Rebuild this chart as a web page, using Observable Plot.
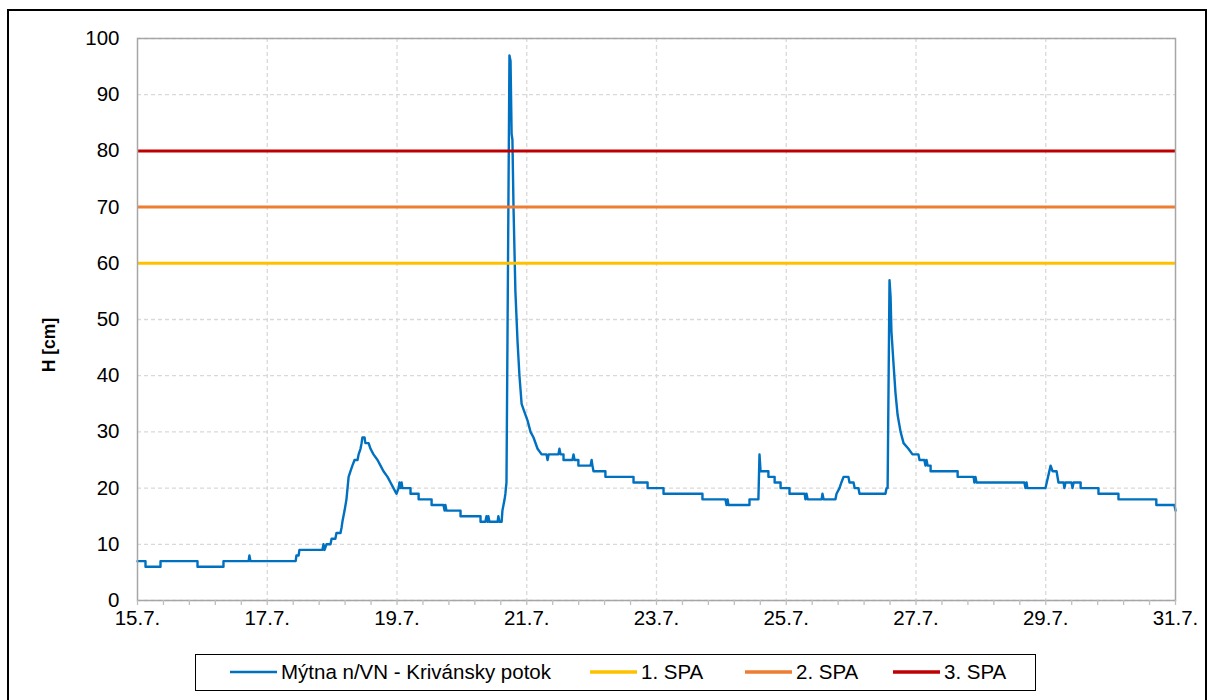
<!DOCTYPE html>
<html>
<head>
<meta charset="utf-8">
<script src="https://cdn.jsdelivr.net/npm/d3@7"></script>
<script src="https://cdn.jsdelivr.net/npm/@observablehq/plot@0.6"></script>
<style>
  html, body { margin: 0; padding: 0; background: #fff; }
  body { width: 1211px; height: 700px; overflow: hidden; position: relative; font-family: "Liberation Sans", Arial, sans-serif; }
  #outer { position: absolute; left: 7px; top: 9px; width: 1200px; height: 760px; border: 2px solid #000; box-sizing: border-box; }
  #chart { position: absolute; left: 0; top: 0; }
  #chart svg text { font-size: 20.5px; fill: #000; }
  #ylabel { position: absolute; left: 49px; top: 345px; transform: translate(-50%, -50%) rotate(-90deg); font-weight: bold; font-size: 17.5px; white-space: nowrap; color: #000; }
  #legend { position: absolute; left: 195px; top: 654px; width: 841px; height: 37px; border: 1.5px solid #000; box-sizing: border-box; background: #fff; }
  .lg { position: absolute; top: 0; height: 34px; display: flex; align-items: center; font-size: 20.5px; color: #000; white-space: nowrap; }
  .sw { display: inline-block; width: 47px; margin-right: 4px; }
</style>
</head>
<body>
<div id="outer"></div>
<div id="chart"></div>
<div id="ylabel"></div>
<div id="legend"></div>
<script>
// ---- data ----
const seriesName = "Mýtna n/VN - Krivánsky potok";
const startDay = "2021-07-15T00:00:00Z";
const hoursFromStart = [
  0, 2.96, 2.96, 8.51, 8.51, 22.2, 22.2, 31.8, 31.8, 41.1,
  41.4, 41.8, 58.5, 58.8, 59.6, 59.9, 68.4, 68.8, 69.2, 69.9,
  71.4, 71.8, 73.2, 73.6, 75.1, 75.5, 75.8, 76.6, 77.3, 78.1,
  78.8, 79.5, 80.3, 81.4, 81.8, 82.5, 82.9, 83.2, 84.0, 84.3,
  85.5, 86.2, 87.3, 88.8, 89.9, 91.0, 92.5, 93.6, 94.7, 95.8,
  96.6, 96.9, 97.3, 97.7, 98.0, 101.0, 101.0, 104.0, 104.0, 108.8,
  108.8, 113.2, 113.6, 113.9, 114.3, 119.5, 119.5, 126.9, 126.9, 128.7,
  129.1, 129.5, 129.8, 130.2, 133.2, 133.5, 133.9, 134.7, 135.0, 135.8,
  136.1, 136.5, 137.6, 138.0, 138.4, 138.7, 139.1, 139.8, 140.6, 141.3,
  142.1, 142.8, 144.3, 145.4, 146.5, 148.0, 149.5, 151.3, 151.7, 152.1,
  155.7, 156.1, 156.5, 157.6, 157.6, 160.9, 161.3, 161.7, 163.1, 163.1,
  167.6, 168.0, 168.3, 168.7, 173.1, 173.1, 183.5, 183.5, 188.7, 188.7,
  194.6, 194.6, 209.0, 209.0, 217.5, 217.9, 218.3, 218.6, 226.4, 226.4,
  229.7, 230.1, 230.5, 233.4, 233.4, 235.7, 235.7, 237.9, 237.9, 241.2,
  241.2, 246.8, 247.1, 247.5, 247.9, 253.1, 253.4, 253.8, 258.2, 258.6,
  259.7, 260.4, 261.2, 263.0, 263.4, 264.9, 265.3, 266.7, 267.1, 276.7,
  277.1, 277.5, 278.2, 278.6, 278.9, 279.7, 280.4, 281.2, 282.3, 283.4,
  285.2, 286.7, 288.9, 289.3, 291.1, 291.5, 291.9, 292.3, 293.4, 293.4,
  303.4, 303.4, 309.3, 309.6, 310.0, 310.4, 328.1, 328.5, 328.9, 329.2,
  335.9, 337.8, 338.5, 340.0, 340.7, 342.6, 342.9, 343.3, 345.5, 345.9,
  346.3, 348.9, 348.9, 355.5, 355.5, 362.9, 362.9, 376.9, 376.9, 383.6, 384.0
];
const levelCm = [
  7, 7, 6, 6, 7, 7, 6, 6, 7, 7,
  8, 7, 7, 8, 8, 9, 9, 10, 9, 10,
  10, 11, 11, 12, 12, 13, 14, 16, 18, 22,
  23, 24, 25, 25, 26, 27, 28, 29, 29, 28,
  28, 27, 26, 25, 24, 23, 22, 21, 20, 19,
  20, 21, 20, 21, 20, 20, 19, 19, 18, 18,
  17, 17, 16, 17, 16, 16, 15, 15, 14, 14,
  15, 14, 15, 14, 14, 15, 14, 14, 16, 18,
  19, 21, 97, 96, 83, 82, 70, 55, 46, 40,
  35, 34, 32, 30, 29, 27, 26, 26, 25, 26,
  26, 27, 26, 26, 25, 25, 26, 25, 25, 24,
  24, 25, 24, 23, 23, 22, 22, 21, 21, 20,
  20, 19, 19, 18, 18, 17, 18, 17, 17, 18,
  18, 26, 23, 23, 22, 22, 21, 21, 20, 20,
  19, 19, 18, 19, 18, 18, 19, 18, 18, 19,
  20, 21, 22, 22, 21, 21, 20, 20, 19, 19,
  20, 20, 57, 54, 48, 42, 37, 33, 30, 28,
  27, 26, 26, 25, 25, 24, 25, 24, 24, 23,
  23, 22, 22, 21, 22, 21, 21, 20, 21, 20,
  20, 24, 23, 23, 21, 21, 20, 21, 21, 20,
  21, 21, 20, 20, 19, 19, 18, 18, 17, 17, 16
];
const thresholdNames = ["1. SPA", "2. SPA", "3. SPA"];
const thresholdValues = [60, 70, 80];
const xTickDays = [15, 17, 19, 21, 23, 25, 27, 29, 31];
const yTicks = [0, 10, 20, 30, 40, 50, 60, 70, 80, 90, 100];
const yAxisTitle = "H [cm]";

// ---- styles ----
const seriesColor = "#0070c0";
const thresholdColors = ["#ffc000", "#ed7d31", "#c00000"];
const fontFamily = '"Liberation Sans", Arial, sans-serif';

// ---- build ----
const t0 = new Date(startDay).getTime();
const rows = hoursFromStart.map((h, i) => ({ t: new Date(t0 + h * 3600e3), v: levelCm[i] }));
const dayDate = d => new Date(Date.UTC(2021, 6, d));
const xDomain = [dayDate(xTickDays[0]), dayDate(xTickDays[xTickDays.length - 1])];
const majorTicks = xTickDays.map(dayDate);
const minorTicks = [];
for (let k = 0; k <= 40; k++) minorTicks.push(new Date(xDomain[0].getTime() + k * 0.4 * 86400e3));
const thresholds = thresholdValues.map((v, i) => ({ name: thresholdNames[i], v, color: thresholdColors[i] }));

const chart = Plot.plot({
  width: 1211,
  height: 640,
  marginLeft: 137,
  marginRight: 36,
  marginTop: 38,
  marginBottom: 40,
  style: { fontFamily, fontSize: "20px", color: "#000", background: "transparent" },
  x: { type: "utc", domain: xDomain },
  y: { domain: [0, 100] },
  marks: [
    Plot.gridY(yTicks, { stroke: "#d9d9d9", strokeOpacity: 1, strokeWidth: 1.3, strokeDasharray: "4,3" }),
    Plot.gridX(majorTicks.slice(1, -1), { stroke: "#d9d9d9", strokeOpacity: 1, strokeWidth: 1.3, strokeDasharray: "4,3" }),
    Plot.line(rows, { x: "t", y: "v", stroke: seriesColor, strokeWidth: 2.4, strokeLinejoin: "round" }),
    Plot.ruleY(thresholds, { y: "v", stroke: "color", strokeWidth: 3 }),
    Plot.frame({ stroke: "#a6a6a6", strokeWidth: 1.5 }),
    Plot.axisX(minorTicks, { tickSize: 5, stroke: "#bfbfbf", strokeWidth: 1.3, tickFormat: () => "", label: null }),
    Plot.axisX(majorTicks, { tickSize: 0, tickPadding: 10, tickFormat: d3.utcFormat("%-d.%-m."), label: null }),
    Plot.axisY(yTicks, { tickSize: 0, tickPadding: 18, label: null })
  ]
});
document.getElementById("chart").appendChild(chart);
document.getElementById("ylabel").textContent = yAxisTitle;

// ---- legend ----
const legend = document.getElementById("legend");
const items = [{ name: seriesName, color: seriesColor, w: 2.3 }].concat(thresholds.map(t => ({ name: t.name, color: t.color, w: 3.5 })));
const itemLeft = [34, 394, 549, 697];
items.forEach((it, i) => {
  const d = document.createElement("div");
  d.className = "lg";
  d.style.left = itemLeft[i] + "px";
  d.innerHTML = `<svg class="sw" width="47" height="6"><line x1="0" x2="47" y1="3" y2="3" stroke="${it.color}" stroke-width="${it.w}"/></svg>`;
  const s = document.createElement("span");
  s.textContent = it.name;
  d.appendChild(s);
  legend.appendChild(d);
});
</script>
</body>
</html>
